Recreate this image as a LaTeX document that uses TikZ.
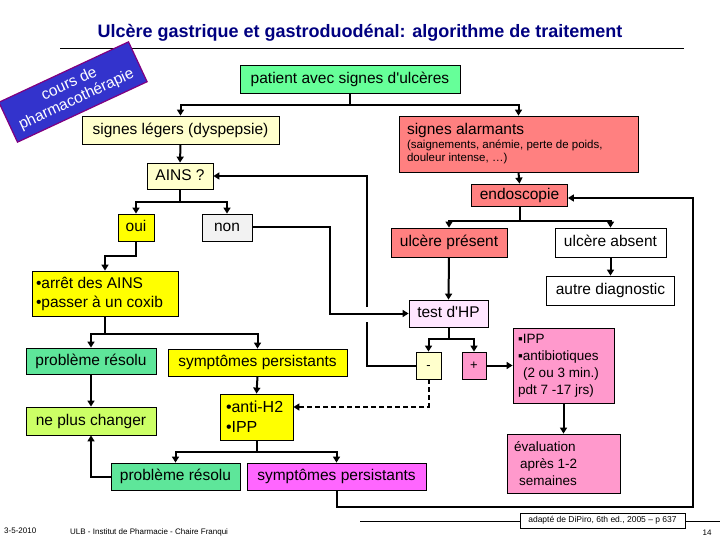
\documentclass[tikz,border=0pt]{standalone}
\usepackage{fontspec}
\setmainfont{Liberation Sans}
\usetikzlibrary{arrows.meta}
\definecolor{cGreen}{HTML}{66FF99}
\definecolor{cResolu}{HTML}{5EE69A}
\definecolor{cNPC}{HTML}{CCFF66}
\definecolor{cYellow}{HTML}{FFFF00}
\definecolor{cLY}{HTML}{FFFFCC}
\definecolor{cRed}{HTML}{FF8080}
\definecolor{cPink}{HTML}{FF99CC}
\definecolor{cMag}{HTML}{FF66FF}
\definecolor{cTest}{HTML}{FFE6FF}
\definecolor{cNon}{HTML}{F2F2F2}
\definecolor{cBlue}{HTML}{3333CC}
\definecolor{cPurple}{HTML}{800080}
\definecolor{cTitle}{HTML}{000080}
\tikzset{
  mbox/.style={draw=black, line width=0.8pt, inner sep=0pt, font=\fontsize{15.5}{18}\selectfont},
  box/.style={mbox, text height=11.3pt, text depth=3.2pt},
  sz/.style 2 args={minimum width=#1pt, minimum height=#2pt},
  conn/.style={line width=2pt},
  arr/.style={conn, -{Triangle[length=6pt,width=7pt]}},
  foot/.style={font=\fontsize{8}{9}\selectfont, inner sep=0pt}
}
\begin{document}
\begin{tikzpicture}[x=1pt,y=-1pt]
\useasboundingbox[fill=white] (0,0) rectangle (720,540);

% title
\node[font=\fontsize{18}{21}\selectfont\bfseries, text=cTitle] (title) at (360,33) {Ulcère gastrique et gastroduodénal: algorithme de traitement};
\draw[line width=0.8pt] (60,48) coordinate (tl) -- (684,48) coordinate (tr);

% rotated label
\node[draw=cPurple, line width=1.2pt, fill=cBlue, text=white, rotate=25, sz={143}{44}, inner sep=0pt, align=center, font=\fontsize{15.5}{17}\selectfont] (cours) at (73,92) {cours de\\pharmacothérapie};

% nodes
\node[box, fill=cGreen, sz={220}{28}] (patient) at (350,79) {patient avec signes d\textquotesingle ulcères};
\node[box, fill=cLY, sz={197}{28}] (legers) at (180.5,130) {signes légers (dyspepsie)};
\node[mbox, fill=cRed, sz={239}{56}] (alarm) at (518.5,144) {\parbox{223pt}{\raggedright signes alarmants\par\vspace{1pt}\fontsize{11.5}{13}\selectfont (saignements, anémie, perte de poids,\\douleur intense, …)}};
\node[box, fill=cRed, sz={96}{22}] (endo) at (519.5,195) {endoscopie};
\node[box, fill=cRed, sz={116}{29}] (present) at (449,242.5) {ulcère présent};
\node[box, fill=white, sz={111}{29}] (absent) at (610.5,242.5) {ulcère absent};
\node[box, fill=white, sz={128}{29}] (autre) at (610.5,290.5) {autre diagnostic};
\node[box, fill=cTest, sz={79}{27}] (test) at (448.5,313.5) {test d\textquotesingle HP};
\node[box, fill=cLY, sz={25}{27}, font=\fontsize{13}{15}\selectfont] (minus) at (428.5,365.5) {-};
\node[box, fill=cPink, sz={24}{27}, font=\fontsize{13}{15}\selectfont] (plus) at (474,365.5) {+};
\node[mbox, fill=cPink, sz={101}{75}] (ipp) at (563.5,365.5) {\parbox{91pt}{\raggedright\fontsize{13.5}{17}\selectfont ▪IPP\\▪antibiotiques\\\hspace*{5pt}(2 ou 3 min.)\\pdt 7 -17 jrs)}};
\node[mbox, fill=cPink, sz={113}{59}] (eval) at (563.5,463.5) {\parbox{99pt}{\raggedright\fontsize{13.5}{17}\selectfont évaluation\\\hspace*{6pt}après 1-2\\\hspace*{5pt}semaines}};

\node[box, fill=cLY, sz={66}{26}] (ains) at (180,176) {AINS ?};
\node[box, fill=cYellow, sz={36}{27}] (oui) at (136,227.5) {oui};
\node[box, fill=cNon, sz={50}{27}] (non) at (227,227.5) {non};
\node[mbox, fill=cYellow, sz={146}{45}] (arret) at (105,293.5) {\parbox{138pt}{\raggedright\fontsize{15.5}{19}\selectfont •arrêt des AINS\\•passer à un coxib}};
\node[box, fill=cResolu, sz={130}{26}] (pr1) at (91,361) {problème résolu};
\node[box, fill=cYellow, sz={179}{27}] (sp1) at (257.5,362.5) {symptômes persistants};
\node[box, fill=cNPC, sz={130}{28}] (npc) at (91,421) {ne plus changer};
\node[mbox, fill=cYellow, sz={73}{46}] (antih2) at (256.5,417) {\parbox{61pt}{\raggedright\fontsize{16}{20}\selectfont •anti-H2\\•IPP}};
\node[box, fill=cResolu, sz={129}{27}] (pr2) at (175.5,476.5) {problème résolu};
\node[box, fill=cMag, sz={179}{27}] (sp2) at (336.5,476.5) {symptômes persistants};

% connectors
\draw[arr] (patient.south) -- ++(0,12) -| (legers.north);
\draw[arr] (patient.south) -- ++(0,12) -| (alarm.north);
\draw[arr] (legers.south) -- (ains.north);
\draw[arr] (ains.south) -- ++(0,13) -| (oui.north);
\draw[arr] (ains.south) -- ++(0,13) -| (non.north);
\draw[arr] (oui.south) -- ++(0,15) -| (arret.north);
\draw[arr] (arret.south) -- ++(0,18) -| (pr1.north);
\draw[arr] (arret.south) -- ++(0,18) -| (sp1.north);
\draw[arr] (pr1.south) -- (npc.north);
\draw[arr] (sp1.south) -- (antih2.north);
\draw[arr] (antih2.south) -- ++(0,12) -| (pr2.north);
\draw[arr] (antih2.south) -- ++(0,12) -| (sp2.north);
\draw[arr] (pr2.west) -| (npc.south);

\draw[arr] (alarm.south) -- (endo.north);
\draw[arr] (endo.south) -- ++(0,15) -| (present.north);
\draw[arr] (endo.south) -- ++(0,15) -| (absent.north);
\draw[arr] (absent.south) -- (autre.north);
\draw[arr] (present.south) -- (test.north);
\draw[arr] (test.south) -- ++(0,12) -| (minus.north);
\draw[arr] (test.south) -- ++(0,12) -| (plus.north);
\draw[arr] (plus.east) -- (ipp.west);
\draw[arr] (ipp.south) -- (eval.north);

% non -> test d'HP
\coordinate (nonK) at (330,270);
\draw[arr] (non.east) -| (nonK) |- (test.west);

% minus -> AINS (with gap at crossing)
\coordinate (gapB) at (367,322);
\coordinate (gapT) at (367,307);
\draw[conn] (minus.west) -| (gapB);
\draw[arr] (gapT) |- (ains.east);

% dashed minus -> anti-H2
\coordinate (dsh) at (400,407);
\draw[arr, dashed, dash pattern=on 5pt off 3pt] (minus.south) |- (antih2.east |- dsh);

% big loop back to endoscopie
\coordinate (loopBR) at (693,507);
\coordinate (loopTR) at (693,198);
\draw[arr] (sp2.south) |- (loopBR) -- (loopTR) -- (endo.east |- loopTR);

% footer
\node[draw, line width=0.8pt, fill=white, sz={165}{15}, inner sep=0pt, font=\fontsize{8.5}{10}\selectfont] (src) at (602.5,520.5) {adapté de DiPiro, 6th ed., 2005 – p 637};
\coordinate (fl) at (360,521);
\coordinate (fr) at (720,521);
\draw[line width=0.8pt] (fl) -- (src.west |- fl);
\draw[line width=0.8pt] (src.east |- fr) -- (fr);
\node[foot, anchor=west] (date) at (4,531) {3-5-2010};
\node[foot, anchor=west] (ulb) at (70,532) {ULB - Institut de Pharmacie - Chaire Franqui};
\node[foot, anchor=center] (page) at (707,533) {14};
\end{tikzpicture}
\end{document}
